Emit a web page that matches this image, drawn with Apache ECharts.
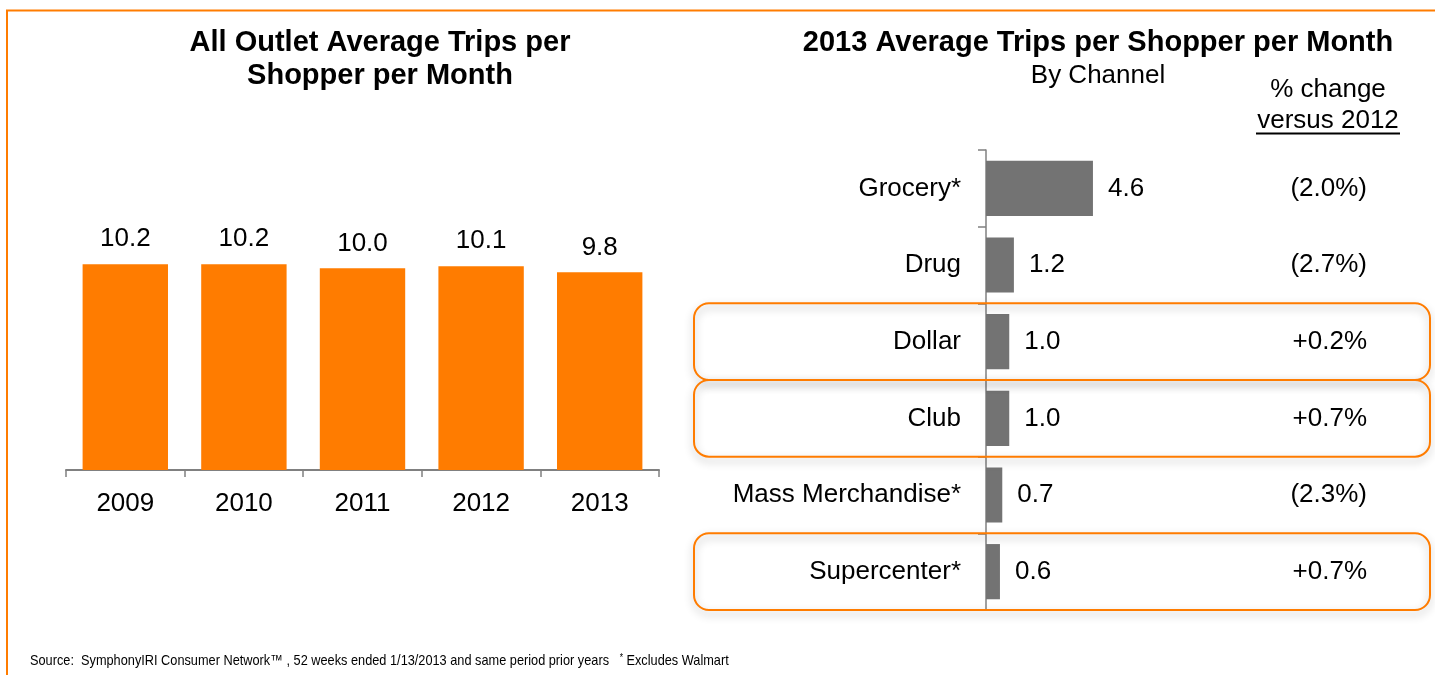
<!DOCTYPE html>
<html>
<head>
<meta charset="utf-8">
<title>Average Trips per Shopper per Month</title>
<script src="https://cdn.jsdelivr.net/npm/echarts@6/dist/echarts.min.js"></script>
<style>
  html, body { margin: 0; padding: 0; background: #ffffff; }
  #chart { width: 1435px; height: 675px; }
</style>
</head>
<body>
<div id="chart"></div>
<script>
// All-outlet trips by year
const years = ['2009', '2010', '2011', '2012', '2013'];
const tripsByYear = [10.2, 10.2, 10.0, 10.1, 9.8];

// 2013 trips by channel, with % change versus 2012
const channels = ['Grocery*', 'Drug', 'Dollar', 'Club', 'Mass Merchandise*', 'Supercenter*'];
const tripsByChannel = [4.6, 1.2, 1.0, 1.0, 0.7, 0.6];
const changeVs2012 = ['(2.0%)', '(2.7%)', '+0.2%', '+0.7%', '(2.3%)', '+0.7%'];
const boxedChannels = ['Dollar', 'Club', 'Supercenter*'];

const FONT = "'Liberation Sans', Arial, Helvetica, sans-serif";
const ORANGE = '#ff7c00';
const GREY_BAR = '#737373';
const AXIS_GREY = '#808080';

const chart = echarts.init(document.getElementById('chart'), null, { renderer: 'canvas' });

function titleText(x, y, text, size, weight) {
  return {
    type: 'text', x: x, y: y, silent: true,
    style: {
      text: text, fill: '#000', textAlign: 'center', textVerticalAlign: 'middle',
      font: weight + ' ' + size + 'px ' + FONT
    }
  };
}

const staticGraphics = [
  // page frame
  { type: 'polyline', silent: true,
    shape: { points: [[7, 675], [7, 10.5], [1435, 10.5]] },
    style: { stroke: ORANGE, lineWidth: 2, fill: null } },
  titleText(380, 43, 'All Outlet Average Trips per', 29, 'bold'),
  titleText(380, 76, 'Shopper per Month', 29, 'bold'),
  titleText(1098, 43, '2013 Average Trips per Shopper per Month', 29, 'bold'),
  titleText(1098, 76, 'By Channel', 26, 'normal'),
  titleText(1328, 90, '% change', 26, 'normal'),
  titleText(1328, 121, 'versus 2012', 26, 'normal'),
  { type: 'line', silent: true,
    shape: { x1: 1256, y1: 133.5, x2: 1400, y2: 133.5 },
    style: { stroke: '#000', lineWidth: 2 } },
  // footnote, set in a narrow face
  { type: 'text', x: 30, y: 661, scaleX: 0.85, silent: true,
    style: {
      text: '{a|Source:  SymphonyIRI Consumer Network™ , 52 weeks ended 1/13/2013 and same period prior years   }{s|*}{a| Excludes Walmart}',
      textVerticalAlign: 'middle',
      rich: {
        a: { fontSize: 15, fontFamily: FONT, fill: '#000', color: '#000' },
        s: { fontSize: 10, fontFamily: FONT, fill: '#000', color: '#000', verticalAlign: 'top' }
      }
    } }
];

const option = {
  animation: false,
  backgroundColor: '#ffffff',
  textStyle: { fontFamily: FONT },
  grid: [
    { left: 66, right: 1435 - 659, top: 228, bottom: 675 - 470, containLabel: false },
    { left: 986, right: 1435 - 1358, top: 150, bottom: 675 - 610, containLabel: false }
  ],
  xAxis: [
    {
      type: 'category', gridIndex: 0, data: years,
      axisLine: { lineStyle: { color: AXIS_GREY, width: 2 } },
      axisTick: { show: true, length: 7, lineStyle: { color: AXIS_GREY, width: 1.5 } },
      axisLabel: { color: '#000', fontSize: 26, fontFamily: FONT, margin: 21 }
    },
    {
      type: 'value', gridIndex: 1, min: 0, max: 16,
      show: false, splitLine: { show: false }
    }
  ],
  yAxis: [
    {
      type: 'value', gridIndex: 0, min: 0, max: 12,
      show: false, splitLine: { show: false }
    },
    {
      type: 'category', gridIndex: 1, data: channels, inverse: true,
      axisLine: { lineStyle: { color: AXIS_GREY, width: 1.5 } },
      axisTick: { show: true, length: 8, lineStyle: { color: AXIS_GREY, width: 1.5 } },
      axisLabel: { color: '#000', fontSize: 26, fontFamily: FONT, margin: 25 }
    },
    {
      type: 'category', gridIndex: 1, data: changeVs2012, inverse: true,
      position: 'right', offset: 9,
      axisLine: { show: false }, axisTick: { show: false },
      axisLabel: { inside: true, margin: 0, color: '#000', fontSize: 26, fontFamily: FONT }
    }
  ],
  series: [
    {
      name: 'All Outlet', type: 'bar', xAxisIndex: 0, yAxisIndex: 0,
      data: tripsByYear, barCategoryGap: '28%',
      itemStyle: { color: ORANGE },
      label: {
        show: true, position: 'top', distance: 12, color: '#000',
        fontSize: 26, fontFamily: FONT,
        formatter: p => p.value.toFixed(1)
      }
    },
    {
      name: 'By Channel', type: 'bar', xAxisIndex: 1, yAxisIndex: 1,
      data: tripsByChannel, barCategoryGap: '28%',
      itemStyle: { color: GREY_BAR },
      label: {
        show: true, position: 'right', distance: 15, color: '#000',
        fontSize: 26, fontFamily: FONT,
        formatter: p => p.value.toFixed(1)
      }
    }
  ],
  graphic: staticGraphics
};

chart.setOption(option);

// Rounded outline boxes around the highlighted channel rows, placed from the category scale
const c0 = chart.convertToPixel({ yAxisIndex: 1 }, channels[0]);
const c1 = chart.convertToPixel({ yAxisIndex: 1 }, channels[1]);
const band = Math.abs(c1 - c0);
const boxes = boxedChannels.map(name => {
  const cy = chart.convertToPixel({ yAxisIndex: 1 }, name);
  return {
    type: 'rect', silent: true, z: 10,
    shape: { x: 694, y: cy - band / 2, width: 736, height: band, r: 15 },
    style: {
      fill: null, stroke: ORANGE, lineWidth: 2,
      shadowBlur: 9, shadowOffsetY: 4, shadowColor: 'rgba(0,0,0,0.3)'
    }
  };
});
chart.setOption({ graphic: staticGraphics.concat(boxes) });
</script>
</body>
</html>
